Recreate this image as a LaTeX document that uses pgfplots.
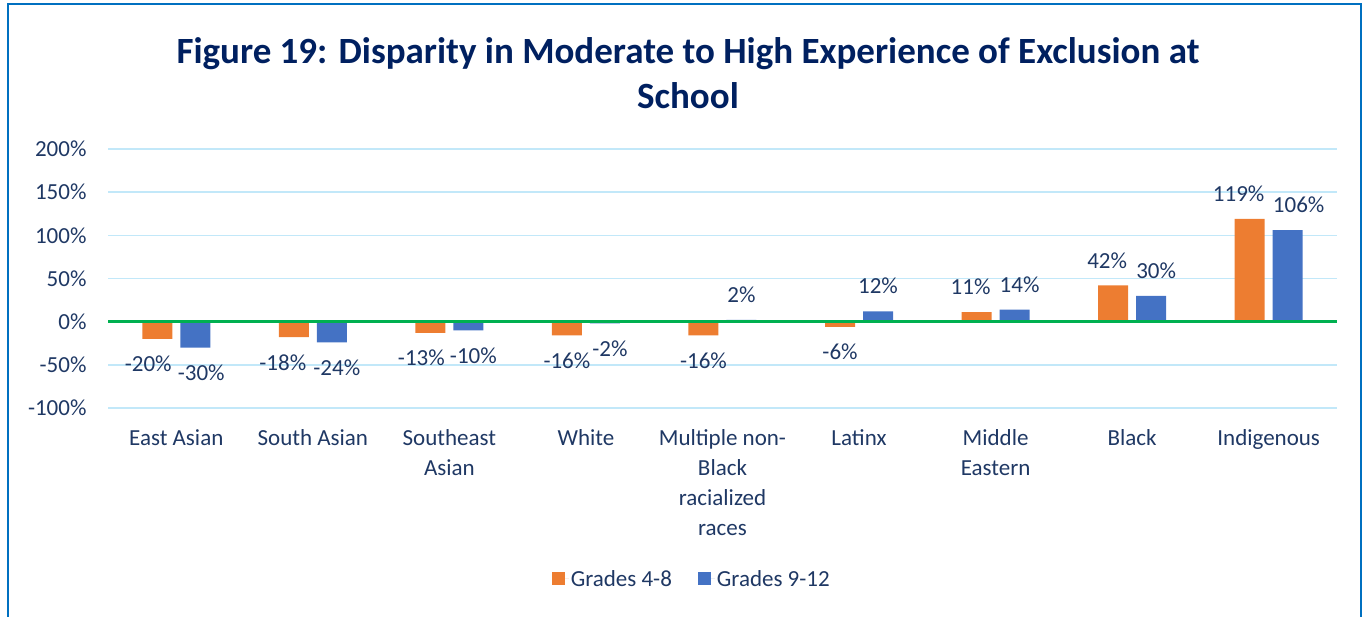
\documentclass[border=0pt]{standalone}
\usepackage{pgfplots}
\usepackage{pgfplotstable}
\pgfplotsset{compat=1.18}
\usepackage{fontspec}
\setmainfont{Carlito}
\definecolor{navy}{HTML}{002060}
\definecolor{txt}{HTML}{1F3864}
\definecolor{gridblue}{HTML}{C2E8F9}
\definecolor{zgreen}{HTML}{00B050}
\definecolor{borderblue}{HTML}{0070C0}
\definecolor{orangebar}{HTML}{ED7D31}
\definecolor{bluebar}{HTML}{4472C4}
\pgfplotstableread{
x y dx
0 -20 -9
1 -18 -11
2 -13 -9
3 -16 0
4 -16 0
5 -6 0
6 11 -6
7 42 -6
8 119 -11
}\gradesA
\pgfplotstableread{
x y dx
0 -30 6
1 -24 5
2 -10 5
3 -2 5
4 2 0
5 12 0
6 14 5
7 30 5
8 106 11
}\gradesB
\begin{document}
\begin{tikzpicture}[x=1pt,y=1pt]
\useasboundingbox (0,0) rectangle (1367,617);
\draw[borderblue, line width=2pt] (8,-20) -- (8,613) -- (1361,613) -- (1361,-20);
\node[font=\bfseries\fontsize{37}{45}\selectfont, text=navy, align=center] at (688,544) {Figure 19: Disparity in Moderate to High Experience of Exclusion at\\School};
\begin{axis}[
  at={(108pt,209pt)}, anchor=south west,
  scale only axis, width=1229pt, height=259pt,
  ymin=-100, ymax=200, ytick={-100,-50,...,200},
  xmin=-0.5, xmax=8.5, xtick={0,...,8},
  xticklabels={East Asian, South Asian, Southeast\\Asian, White, Multiple non-\\Black\\racialized\\races, Latinx, Middle\\Eastern, Black, Indigenous},
  ybar=8pt, bar width=30pt,
  axis line style={draw=none}, major tick length=0pt,
  ymajorgrids, grid style={gridblue, line width=1.5pt},
  yticklabel={\pgfmathprintnumber{\tick}\%},
  /pgf/number format/assume math mode=true,
  ticklabel style={font=\fontsize{23}{30}\selectfont, text=txt},
  xticklabel style={align=center, anchor=north, yshift=-18pt},
  yticklabel style={xshift=-18pt},
  visualization depends on={\thisrow{dx} \as \dx},
  nodes near coords={\pgfmathprintnumber{\pgfplotspointmeta}\%},
  nodes near coords style={font=\fontsize{23}{28}\selectfont, text=txt, inner ysep=17pt, xshift=\dx pt},
  legend style={at={(0.475,-0.66)}, anchor=center, draw=none, legend columns=2,
    font=\fontsize{23}{28}\selectfont, text=txt,
    /tikz/every even column/.append style={column sep=24pt}},
  legend image code/.code={\fill[#1] (0pt,-6.5pt) rectangle (13pt,6.5pt); \path (13pt,0pt) -- (17pt,0pt);},
]
\addplot[fill=orangebar, draw=none] table[x=x, y=y, meta=y] {\gradesA};
\addplot[fill=bluebar, draw=none] table[x=x, y=y, meta=y] {\gradesB};
\legend{Grades 4-8, Grades 9-12}
\draw[zgreen, line width=3pt] (axis cs:-0.5,0) -- (axis cs:8.5,0);
\end{axis}
\end{tikzpicture}
\end{document}
